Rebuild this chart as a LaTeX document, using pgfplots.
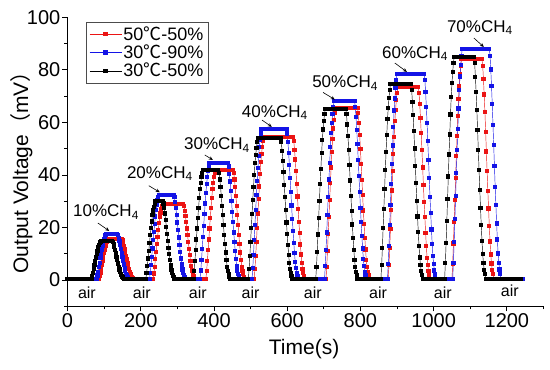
\documentclass[border=0pt]{standalone}
\usepackage{pgfplots}
\pgfplotsset{compat=1.18}
\usepackage{fontspec}
\setmainfont{Liberation Sans}
\newfontfamily\cjk{Noto Sans CJK SC}
\usetikzlibrary{arrows.meta}
\definecolor{myred}{RGB}{235,20,20}
\definecolor{myblue}{RGB}{20,20,230}
\newcommand{\degc}{{\cjk ℃}}
\begin{document}
\begin{tikzpicture}
\useasboundingbox (0,0) rectangle (550pt,370pt);
\begin{axis}[
  at={(67.5pt,63.7pt)}, anchor=south west,
  scale only axis, width=476pt, height=289pt,
  xmin=0, xmax=1300, ymin=-10, ymax=100,
  axis lines*=left,
  axis line style={line width=0.8pt},
  xtick={0,200,...,1200}, minor xtick={100,300,...,1300},
  ytick={0,20,...,100}, minor ytick={-10,10,...,90},
  tick align=outside,
  major tick length=5pt, minor tick length=3pt,
  every tick/.style={line width=0.8pt, black},
  scaled x ticks=false,
  /pgf/number format/assume math mode=true,
  /pgf/number format/1000 sep={},
  ticklabel style={font=\fontsize{20}{24}\selectfont, inner sep=2pt},
  xlabel={Time(s)},
  ylabel={Output Voltage{\cjk （}mV{\cjk ）}},
  label style={font=\fontsize{21}{25}\selectfont},
  xlabel style={at={(axis description cs:0.497,-0.148)}, anchor=center},
  ylabel style={at={(axis description cs:-0.097,0.48)}, anchor=center},
  clip=false,
  legend style={at={(0.039,0.984)}, anchor=north west, draw=black!70, line width=0.6pt,
    font=\fontsize{18}{21}\selectfont, nodes={inner sep=1.5pt}, inner sep=3pt},
  legend cell align=left,
  legend image code/.code={\draw[#1, mark repeat=2, mark phase=2] plot coordinates {(0pt,0pt) (16pt,0pt) (32pt,0pt)};},
  every axis plot/.append style={line width=0.45pt, mark=square*, mark size=1.6pt},
]
% 50C-50% (red)
\addplot[color=myred, mark options={fill=myred, draw=myred, line width=0pt}] coordinates {
(0,0.5)(5,0.5)(10,0.5)(15,0.5)(20,0.5)(25,0.5)(30,0.5)(35,0.5)(40,0.5)(45,0.5)(50,0.5)(55,0.5)(60,0.5)(65,0.5)(70,0.5)(75,0.5)(80,0.5)
(86,0.5)(88,1.6)(90,2.9)(92,4.4)(94,5.9)(96,7.4)(98,8.9)(100,10.3)(102,11.6)(104,12.8)(106,13.7)(108,14.5)(110,15.1)(112,15.5)
(117,15.5)(122,15.5)(127,15.5)(132,15.5)(137,15.5)(142,15.5)
(148,15.5)(150,15.1)(152,14.2)(154,13.1)(156,11.9)(158,10.6)(160,9.2)(162,7.9)(164,6.5)(166,5.3)(168,4.1)(170,3.1)(172,2.2)(174,1.6)(176,1.1)(178,0.8)(180,0.5)
(185,0.5)(190,0.5)(195,0.5)(200,0.5)(205,0.5)(210,0.5)(215,0.5)(220,0.5)(225,0.5)(230,0.5)
(234,0.5)(236,2.5)(238,5.1)(240,7.9)(242,10.8)(244,13.6)(246,16.5)(248,19.0)(250,21.6)(252,23.9)(254,25.6)(256,27.0)(258,28.1)(260,29.0)
(265,29)(270,29)(275,29)(280,29)(285,29)(290,29)(295,29)(300,29)(305,29)(310,29)
(316,29.0)(318,28.1)(320,26.4)(322,24.4)(324,22.2)(326,19.6)(328,17.0)(330,14.5)(332,11.9)(334,9.6)(336,7.3)(338,5.3)(340,3.6)(342,2.5)(344,1.6)(346,1.1)(348,0.5)
(353,0.5)(358,0.5)(363,0.5)(368,0.5)(373,0.5)
(378,0.5)(380,3.4)(382,7.1)(384,11.3)(386,15.4)(388,19.6)(390,23.7)(392,27.5)(394,31.2)(396,34.5)(398,37.0)(400,39.1)(402,40.8)(404,42.0)
(409,42)(414,42)(419,42)(424,42)(429,42)(434,42)(439,42)(444,42)(449,42)
(452,42.0)(454,40.8)(456,38.3)(458,35.4)(460,32.0)(462,28.3)(464,24.6)(466,20.8)(468,17.1)(470,13.8)(472,10.5)(474,7.6)(476,5.1)(478,3.4)(480,2.2)(482,1.3)(484,0.5)
(489,0.5)(494,0.5)(499,0.5)(504,0.5)
(510,0.5)(512,4.3)(514,9.1)(516,14.5)(518,19.9)(520,25.3)(522,30.7)(524,35.6)(526,40.5)(528,44.8)(530,48.0)(532,50.7)(534,52.9)(536,54.5)
(541,54.5)(546,54.5)(551,54.5)(556,54.5)(561,54.5)(566,54.5)(571,54.5)(576,54.5)(581,54.5)(586,54.5)(591,54.5)(596,54.5)(601,54.5)(606,54.5)(611,54.5)
(616,54.5)(618,52.9)(620,49.6)(622,45.9)(624,41.5)(626,36.7)(628,31.8)(630,27.0)(632,22.1)(634,17.8)(636,13.5)(638,9.7)(640,6.4)(642,4.3)(644,2.7)(646,1.6)(648,0.5)
(653,0.5)(658,0.5)(663,0.5)(668,0.5)(673,0.5)(678,0.5)(683,0.5)(688,0.5)(693,0.5)(698,0.5)(703,0.5)
(706,0.5)(708,5.1)(710,10.9)(712,17.4)(714,23.9)(716,30.4)(718,36.9)(720,42.8)(722,48.6)(724,53.8)(726,57.7)(728,61.0)(730,63.6)(732,65.5)
(737,65.5)(742,65.5)(747,65.5)(752,65.5)(757,65.5)(762,65.5)(767,65.5)(772,65.5)(777,65.5)(782,65.5)(787,65.5)
(792,65.5)(794,63.6)(796,59.7)(798,55.1)(800,49.9)(802,44.1)(804,38.2)(806,32.4)(808,26.5)(810,21.3)(812,16.1)(814,11.6)(816,7.7)(818,5.1)(820,3.1)(822,1.8)(824,0.5)
(829,0.5)(834,0.5)(839,0.5)(844,0.5)(849,0.5)(854,0.5)(859,0.5)(864,0.5)(869,0.5)
(876,0.5)(878,5.6)(880,12.2)(882,19.5)(884,26.8)(886,34.1)(888,41.4)(890,48.0)(892,54.5)(894,60.4)(896,64.7)(898,68.4)(900,71.3)(902,73.5)
(907,73.5)(912,73.5)(917,73.5)(922,73.5)(927,73.5)(932,73.5)(937,73.5)(942,73.5)(947,73.5)(952,73.5)
(958,73.5)(960,71.3)(962,66.9)(964,61.8)(966,56.0)(968,49.4)(970,42.8)(972,36.3)(974,29.7)(976,23.9)(978,18.0)(980,12.9)(982,8.5)(984,5.6)(986,3.4)(988,2.0)(990,0.5)
(995,0.5)(1000,0.5)(1005,0.5)(1010,0.5)(1015,0.5)(1020,0.5)(1025,0.5)(1030,0.5)(1035,0.5)(1040,0.5)(1045,0.5)
(1050,0.5)(1052,6.3)(1054,13.9)(1056,22.2)(1058,30.6)(1060,38.9)(1062,47.3)(1064,54.8)(1066,62.3)(1068,69.0)(1070,74.0)(1072,78.2)(1074,81.5)(1076,84.0)
(1081,84)(1086,84)(1091,84)(1096,84)(1101,84)(1106,84)(1111,84)(1116,84)(1121,84)(1126,84)
(1132,84.0)(1134,81.5)(1136,76.5)(1138,70.6)(1140,64.0)(1142,56.4)(1144,48.9)(1146,41.4)(1148,33.9)(1150,27.2)(1152,20.5)(1154,14.7)(1156,9.7)(1158,6.3)(1160,3.8)(1162,2.2)(1164,0.5)
(1169,0.5)(1174,0.5)(1179,0.5)(1184,0.5)(1189,0.5)(1194,0.5)(1199,0.5)(1204,0.5)(1209,0.5)(1214,0.5)(1219,0.5)(1224,0.5)(1229,0.5)(1234,0.5)(1239,0.5)
};
\addlegendentry{50\degc-50\%}
% 30C-90% (blue)
\addplot[color=myblue, mark options={fill=myblue, draw=myblue, line width=0pt}] coordinates {
(0,0.5)(5,0.5)(10,0.5)(15,0.5)(20,0.5)(25,0.5)(30,0.5)(35,0.5)(40,0.5)(45,0.5)(50,0.5)(55,0.5)(60,0.5)(65,0.5)(70,0.5)(75,0.5)
(80,0.5)(82,1.7)(84,3.2)(86,4.9)(88,6.6)(90,8.3)(92,10.0)(94,11.6)(96,13.1)(98,14.4)(100,15.5)(102,16.3)(104,17.0)(106,17.5)
(111,17.5)(116,17.5)(121,17.5)(126,17.5)(131,17.5)
(136,17.5)(138,17.0)(140,16.0)(142,14.8)(144,13.4)(146,11.9)(148,10.4)(150,8.8)(152,7.3)(154,5.9)(156,4.6)(158,3.4)(160,2.4)(162,1.7)(164,1.2)(166,0.8)(168,0.5)
(173,0.5)(178,0.5)(183,0.5)(188,0.5)(193,0.5)(198,0.5)(203,0.5)(208,0.5)(213,0.5)(218,0.5)
(224,0.5)(226,2.7)(228,5.6)(230,8.8)(232,12.0)(234,15.2)(236,18.4)(238,21.3)(240,24.2)(242,26.7)(244,28.7)(246,30.3)(248,31.5)(250,32.5)
(255,32.5)(260,32.5)(265,32.5)(270,32.5)(275,32.5)(280,32.5)(285,32.5)
(290,32.5)(292,31.5)(294,29.6)(296,27.4)(298,24.8)(300,21.9)(302,19.1)(304,16.2)(306,13.3)(308,10.7)(310,8.2)(312,5.9)(314,4.0)(316,2.7)(318,1.8)(320,1.1)(322,0.5)
(327,0.5)(332,0.5)(337,0.5)(342,0.5)(347,0.5)(352,0.5)(357,0.5)
(362,0.5)(364,3.6)(366,7.5)(368,11.9)(370,16.3)(372,20.7)(374,25.1)(376,29.1)(378,33.1)(380,36.6)(382,39.2)(384,41.4)(386,43.2)(388,44.5)
(393,44.5)(398,44.5)(403,44.5)(408,44.5)(413,44.5)(418,44.5)(423,44.5)(428,44.5)(433,44.5)
(438,44.5)(440,43.2)(442,40.5)(444,37.5)(446,33.9)(448,30.0)(450,26.0)(452,22.1)(454,18.1)(456,14.6)(458,11.1)(460,8.0)(462,5.3)(464,3.6)(466,2.3)(468,1.4)(470,0.5)
(475,0.5)(480,0.5)(485,0.5)(490,0.5)(495,0.5)(500,0.5)
(504,0.5)(506,4.5)(508,9.6)(510,15.3)(512,21.0)(514,26.7)(516,32.4)(518,37.6)(520,42.7)(522,47.2)(524,50.7)(526,53.5)(528,55.8)(530,57.5)
(535,57.5)(540,57.5)(545,57.5)(550,57.5)(555,57.5)(560,57.5)(565,57.5)(570,57.5)(575,57.5)(580,57.5)(585,57.5)(590,57.5)(594,57.5)
(598,57.5)(600,55.8)(602,52.4)(604,48.4)(606,43.8)(608,38.7)(610,33.6)(612,28.4)(614,23.3)(616,18.7)(618,14.2)(620,10.2)(622,6.8)(624,4.5)(626,2.8)(628,1.6)(630,0.5)
(635,0.5)(640,0.5)(645,0.5)(650,0.5)(655,0.5)(660,0.5)(665,0.5)(670,0.5)(675,0.5)(680,0.5)(685,0.5)(690,0.5)(695,0.5)(700,0.5)
(702,0.5)(704,5.2)(706,11.3)(708,18.1)(710,24.8)(712,31.6)(714,38.3)(716,44.4)(718,50.5)(720,55.9)(722,59.9)(724,63.3)(726,66.0)(728,68.0)
(733,68)(738,68)(743,68)(748,68)(753,68)(758,68)(763,68)(768,68)(773,68)(778,68)
(784,68.0)(786,66.0)(788,61.9)(790,57.2)(792,51.8)(794,45.7)(796,39.7)(798,33.6)(800,27.5)(802,22.1)(804,16.7)(806,12.0)(808,7.9)(810,5.2)(812,3.2)(814,1.9)(816,0.5)
(821,0.5)(826,0.5)(831,0.5)(836,0.5)(841,0.5)(846,0.5)(851,0.5)(856,0.5)(861,0.5)(866,0.5)(871,0.5)
(874,0.5)(876,6.0)(878,13.0)(880,20.8)(882,28.6)(884,36.4)(886,44.2)(888,51.2)(890,58.2)(892,64.5)(894,69.1)(896,73.0)(898,76.2)(900,78.5)
(905,78.5)(910,78.5)(915,78.5)(920,78.5)(925,78.5)(930,78.5)(935,78.5)(940,78.5)(945,78.5)(950,78.5)(955,78.5)(960,78.5)(965,78.5)(970,78.5)
(974,78.5)(976,76.2)(978,71.5)(980,66.0)(982,59.8)(984,52.8)(986,45.7)(988,38.7)(990,31.7)(992,25.5)(994,19.2)(996,13.8)(998,9.1)(1000,6.0)(1002,3.6)(1004,2.1)(1006,0.5)
(1011,0.5)(1016,0.5)(1021,0.5)(1026,0.5)(1031,0.5)(1036,0.5)(1041,0.5)(1046,0.5)
(1052,0.5)(1054,6.6)(1056,14.5)(1058,23.3)(1060,32.0)(1062,40.8)(1064,49.5)(1066,57.4)(1068,65.3)(1070,72.3)(1072,77.5)(1074,81.9)(1076,85.4)(1078,88.0)
(1083,88)(1088,88)(1093,88)(1098,88)(1103,88)(1108,88)(1113,88)(1118,88)(1123,88)(1128,88)(1133,88)(1138,88)(1143,88)(1148,88)
(1152,88.0)(1154,85.4)(1156,80.1)(1158,74.0)(1160,67.0)(1162,59.1)(1164,51.3)(1166,43.4)(1168,35.5)(1170,28.5)(1172,21.5)(1174,15.4)(1176,10.1)(1178,6.6)(1180,4.0)(1182,2.3)(1184,0.5)
(1189,0.5)(1194,0.5)(1199,0.5)(1204,0.5)(1209,0.5)(1214,0.5)(1219,0.5)(1224,0.5)(1229,0.5)(1234,0.5)(1239,0.5)(1244,0.5)
};
\addlegendentry{30\degc-90\%}
% 30C-50% (black)
\addplot[color=black, mark options={fill=black, draw=black, line width=0pt}] coordinates {
(0,0.5)(5,0.5)(10,0.5)(15,0.5)(20,0.5)(25,0.5)(30,0.5)(35,0.5)(40,0.5)(45,0.5)(50,0.5)(55,0.5)(60,0.5)
(66,0.5)(68,1.5)(70,2.8)(72,4.3)(74,5.7)(76,7.2)(78,8.6)(80,9.9)(82,11.2)(84,12.4)(86,13.3)(88,14.0)(90,14.6)(92,15.0)
(97,15)(102,15)(107,15)(112,15)(117,15)
(122,15.0)(124,14.6)(126,13.7)(128,12.7)(130,11.5)(132,10.2)(134,8.9)(136,7.6)(138,6.3)(140,5.1)(142,4.0)(144,3.0)(146,2.1)(148,1.5)(150,1.1)(152,0.8)(154,0.5)
(159,0.5)(164,0.5)(169,0.5)(174,0.5)(179,0.5)(184,0.5)(189,0.5)(194,0.5)(199,0.5)(204,0.5)(209,0.5)
(214,0.5)(216,2.6)(218,5.2)(220,8.2)(222,11.1)(224,14.1)(226,17.0)(228,19.7)(230,22.3)(232,24.7)(234,26.5)(236,27.9)(238,29.1)(240,30.0)
(245,30)(250,30)(255,30)
(260,30.0)(262,29.1)(264,27.3)(266,25.3)(268,22.9)(270,20.3)(272,17.6)(274,15.0)(276,12.3)(278,9.9)(280,7.6)(282,5.5)(284,3.7)(286,2.6)(288,1.7)(290,1.1)(292,0.5)
(297,0.5)(302,0.5)(307,0.5)(312,0.5)(317,0.5)(322,0.5)(327,0.5)(332,0.5)(337,0.5)
(344,0.5)(346,3.4)(348,7.1)(350,11.3)(352,15.4)(354,19.6)(356,23.7)(358,27.5)(360,31.2)(362,34.5)(364,37.0)(366,39.1)(368,40.8)(370,42.0)
(375,42)(380,42)(385,42)(390,42)(395,42)(400,42)(405,42)(409,42)
(412,42.0)(414,40.8)(416,38.3)(418,35.4)(420,32.0)(422,28.3)(424,24.6)(426,20.8)(428,17.1)(430,13.8)(432,10.5)(434,7.6)(436,5.1)(438,3.4)(440,2.2)(442,1.3)(444,0.5)
(449,0.5)(454,0.5)(459,0.5)(464,0.5)(469,0.5)(474,0.5)(479,0.5)(484,0.5)(489,0.5)
(494,0.5)(496,4.2)(498,9.1)(500,14.4)(502,19.8)(504,25.1)(506,30.5)(508,35.3)(510,40.1)(512,44.4)(514,47.6)(516,50.3)(518,52.4)(520,54.0)
(525,54)(530,54)(535,54)(540,54)(545,54)(550,54)(555,54)(560,54)(565,54)(570,54)(575,54)
(582,54.0)(584,52.4)(586,49.2)(588,45.4)(590,41.2)(592,36.3)(594,31.5)(596,26.7)(598,21.9)(600,17.6)(602,13.3)(604,9.6)(606,6.4)(608,4.2)(610,2.6)(612,1.6)(614,0.5)
(619,0.5)(624,0.5)(629,0.5)(634,0.5)(639,0.5)(644,0.5)(649,0.5)(654,0.5)(659,0.5)(664,0.5)(669,0.5)(674,0.5)
(678,0.5)(680,5.0)(682,10.8)(684,17.3)(686,23.7)(688,30.2)(690,36.6)(692,42.4)(694,48.2)(696,53.4)(698,57.3)(700,60.5)(702,63.1)(704,65.0)
(709,65)(714,65)(719,65)(724,65)(729,65)(734,65)(739,65)(744,65)(749,65)(754,65)
(760,65.0)(762,63.1)(764,59.2)(766,54.7)(768,49.5)(770,43.7)(772,37.9)(774,32.1)(776,26.3)(778,21.1)(780,16.0)(782,11.5)(784,7.6)(786,5.0)(788,3.1)(790,1.8)(792,0.5)
(797,0.5)(802,0.5)(807,0.5)(812,0.5)(817,0.5)(822,0.5)(827,0.5)(832,0.5)(837,0.5)(842,0.5)(847,0.5)(852,0.5)
(856,0.5)(858,5.7)(860,12.3)(862,19.7)(864,27.1)(866,34.5)(868,41.9)(870,48.6)(872,55.3)(874,61.2)(876,65.6)(878,69.3)(880,72.3)(882,74.5)
(887,74.5)(892,74.5)(897,74.5)(902,74.5)(907,74.5)(912,74.5)(917,74.5)(922,74.5)(927,74.5)(932,74.5)
(938,74.5)(940,72.3)(942,67.8)(944,62.7)(946,56.7)(948,50.1)(950,43.4)(952,36.8)(954,30.1)(956,24.2)(958,18.3)(960,13.1)(962,8.6)(964,5.7)(966,3.5)(968,2.0)(970,0.5)
(975,0.5)(980,0.5)(985,0.5)(990,0.5)(995,0.5)(1000,0.5)(1005,0.5)(1010,0.5)(1015,0.5)(1020,0.5)(1025,0.5)
(1030,0.5)(1032,6.4)(1034,14.0)(1036,22.5)(1038,30.9)(1040,39.4)(1042,47.8)(1044,55.4)(1046,63.0)(1048,69.8)(1050,74.9)(1052,79.1)(1054,82.5)(1056,85.0)
(1061,85)(1066,85)(1071,85)(1076,85)(1081,85)(1086,85)(1091,85)(1096,85)(1101,85)(1106,85)
(1110,85.0)(1112,82.5)(1114,77.4)(1116,71.5)(1118,64.7)(1120,57.1)(1122,49.5)(1124,41.9)(1126,34.3)(1128,27.5)(1130,20.8)(1132,14.9)(1134,9.8)(1136,6.4)(1138,3.9)(1140,2.2)(1142,0.5)
(1147,0.5)(1152,0.5)(1157,0.5)(1162,0.5)(1167,0.5)(1172,0.5)(1177,0.5)(1182,0.5)(1187,0.5)(1192,0.5)(1197,0.5)(1202,0.5)(1207,0.5)(1212,0.5)(1217,0.5)(1222,0.5)(1227,0.5)(1232,0.5)(1237,0.5)
};
\addlegendentry{30\degc-50\%}
% anchor points for annotations (drawn after the axis so they sit on top)
\coordinate (L1) at (axis cs:15,24.1);
\coordinate (L2) at (axis cs:162,38.8);
\coordinate (L3) at (axis cs:318,49.5);
\coordinate (L4) at (axis cs:476,62.0);
\coordinate (L5) at (axis cs:668,73.1);
\coordinate (L6) at (axis cs:859,84.5);
\coordinate (L7) at (axis cs:1036,94.4);
\coordinate (A1s) at (axis cs:83,21.7);   \coordinate (A1e) at (axis cs:114,18.7);
\coordinate (A2s) at (axis cs:222,35.9);  \coordinate (A2e) at (axis cs:252,33.4);
\coordinate (A3s) at (axis cs:375,47.6);  \coordinate (A3e) at (axis cs:397,45.7);
\coordinate (A4s) at (axis cs:531,60.9);  \coordinate (A4e) at (axis cs:558,58.3);
\coordinate (A5s) at (axis cs:698,71.4);  \coordinate (A5e) at (axis cs:730,68.7);
\coordinate (A6s) at (axis cs:894,82.6);  \coordinate (A6e) at (axis cs:927,79.2);
\coordinate (A7s) at (axis cs:1110,92.1); \coordinate (A7e) at (axis cs:1137,88.7);
\begin{scope}[every node/.style={font=\fontsize{16}{19}\selectfont, inner sep=0pt, anchor=center}]
\node at (axis cs:53,-5) {air};
\node at (axis cs:203,-5) {air};
\node at (axis cs:356,-5) {air};
\node at (axis cs:500,-5) {air};
\node at (axis cs:670,-5) {air};
\node at (axis cs:848,-5) {air};
\node at (axis cs:1025,-5) {air};
\node at (axis cs:1208,-4) {air};
\end{scope}
\end{axis}
\begin{scope}[every node/.style={font=\fontsize{17}{20}\selectfont, inner sep=0pt, anchor=base west}]
\node at (L1) {10\%CH\textsubscript{4}};
\node at (L2) {20\%CH\textsubscript{4}};
\node at (L3) {30\%CH\textsubscript{4}};
\node at (L4) {40\%CH\textsubscript{4}};
\node at (L5) {50\%CH\textsubscript{4}};
\node at (L6) {60\%CH\textsubscript{4}};
\node at (L7) {70\%CH\textsubscript{4}};
\end{scope}
\begin{scope}[-{Stealth[length=4pt,width=3.5pt]}, line width=0.6pt]
\draw (A1s) -- (A1e);
\draw (A2s) -- (A2e);
\draw (A3s) -- (A3e);
\draw (A4s) -- (A4e);
\draw (A5s) -- (A5e);
\draw (A6s) -- (A6e);
\draw (A7s) -- (A7e);
\end{scope}
\end{tikzpicture}
\end{document}
